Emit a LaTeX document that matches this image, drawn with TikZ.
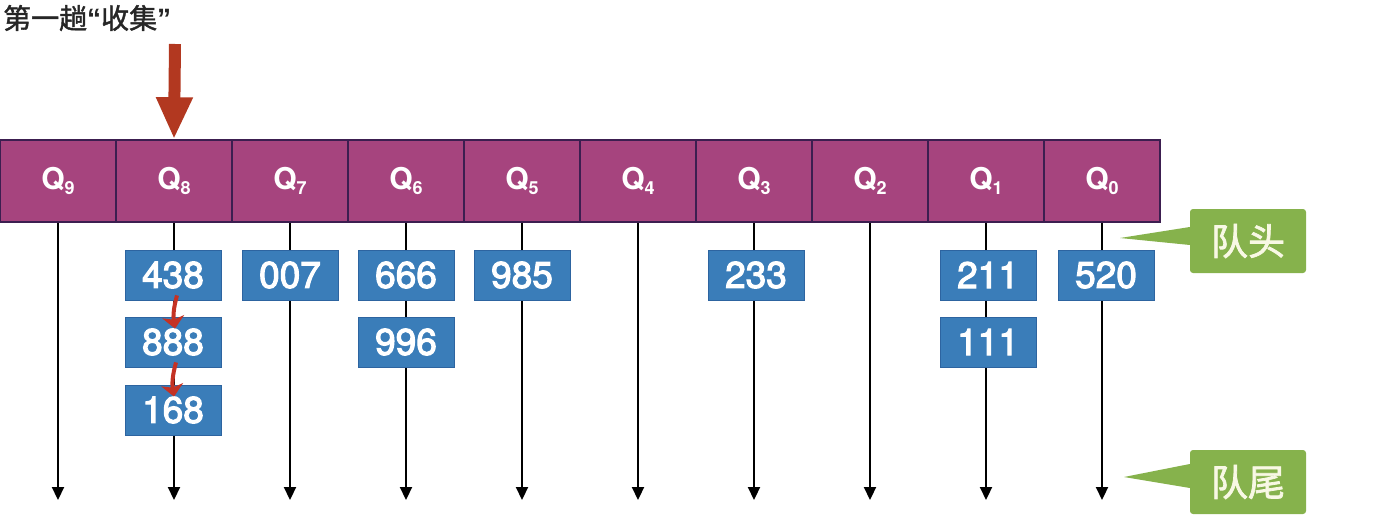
\documentclass[tikz,border=0pt]{standalone}
\usepackage{fontspec}
\setmainfont{TeX Gyre Heros}
\newfontfamily\cjk{Noto Sans CJK SC}
\newfontfamily\quotefont{Liberation Sans}
\usetikzlibrary{arrows.meta}
\definecolor{qpurple}{RGB}{166,68,126}
\definecolor{qdiv}{RGB}{60,30,80}
\definecolor{kblue}{RGB}{58,125,185}
\definecolor{kedge}{RGB}{45,100,160}
\definecolor{cgreen}{RGB}{134,178,76}
\definecolor{ared}{RGB}{178,56,32}
\definecolor{sred}{RGB}{196,50,36}
\definecolor{cream}{RGB}{248,248,228}
\begin{document}
\begin{tikzpicture}[x=1pt,y=-1pt,
  cell/.style={fill=qpurple,draw=qdiv,line width=1.5pt,minimum width=116pt,minimum height=82pt,inner sep=0pt,text=white,
    font=\fontsize{30}{30}\selectfont\bfseries},
  key/.style={fill=kblue,draw=kedge,line width=0.8pt,minimum width=96pt,minimum height=50pt,inner sep=0pt,text=white,
    font=\fontsize{37}{37}\selectfont\addfontfeature{FakeBold=3}},
  queue/.style={line width=2.2pt,-{Triangle[width=12pt,length=13pt]}},
  callout/.style={fill=cgreen,rounded corners=3pt,minimum width=116pt,minimum height=64pt,inner sep=0pt,text=cream,
    font=\cjk\fontsize{37}{37}\selectfont\addfontfeature{FakeBold=2}},
  small/.style={sred,line width=4pt,-{Stealth[width=22pt,length=12pt,inset=3pt]}}]
\useasboundingbox (0,0) rectangle (1400,516);
\newcommand{\qlab}[1]{Q\raisebox{-0.35ex}{\fontsize{18}{18}\selectfont #1}}
% title
\node[anchor=west,inner sep=0pt,text=black!85,font=\cjk\fontsize{28}{28}\selectfont\addfontfeature{FakeBold=1.5}] (title) at (3,18) {第一趟{\quotefont\bfseries “}收集{\quotefont\bfseries ”}};
% cells
\foreach \i in {9,...,0}{
  \pgfmathsetmacro{\cx}{58+116*(9-\i)}
  \node[cell] (q\i) at (\cx,181) {\qlab{\i}};
  \coordinate (t\i) at (\cx,500);
  \draw[queue] (q\i.south) -- (t\i);
}
% collect arrow
\coordinate (ra) at (175,44);
\draw[ared,line width=12pt,-{Triangle[width=34pt,length=42pt]}] (ra) -- (q8.north);
% keys
\node[key] (k438) at (173,275) {438};
\node[key] (k888) at (173,342) {888};
\node[key] (k168) at (173,410) {168};
\node[key] (k007) at (290,275) {007};
\node[key] (k666) at (406,275) {666};
\node[key] (k996) at (406,342) {996};
\node[key] (k985) at (522,275) {985};
\node[key] (k233) at (756,275) {233};
\node[key] (k211) at (988,275) {211};
\node[key] (k111) at (988,342) {111};
\node[key] (k520) at (1106,275) {520};
% small red arrows
\draw[small] ([xshift=4pt,yshift=5pt]k438.south) to[bend right=12] ([xshift=2pt,yshift=-12pt]k888.north);
\draw[small] ([xshift=3pt,yshift=5pt]k888.south) to[bend right=12] ([xshift=1pt,yshift=-12pt]k168.north);
% callouts
\node[callout] (head) at (1248,241) {队头};
\coordinate (headtip) at (1120,238);
\fill[cgreen] ([yshift=14pt]head.west) -- (headtip) -- ([yshift=-4pt]head.west) -- cycle;
\node[callout] (tail) at (1248,482) {队尾};
\coordinate (tailtip) at (1124,477);
\fill[cgreen] ([yshift=18pt]tail.west) -- (tailtip) -- ([yshift=-6pt]tail.west) -- cycle;
\end{tikzpicture}
\end{document}
